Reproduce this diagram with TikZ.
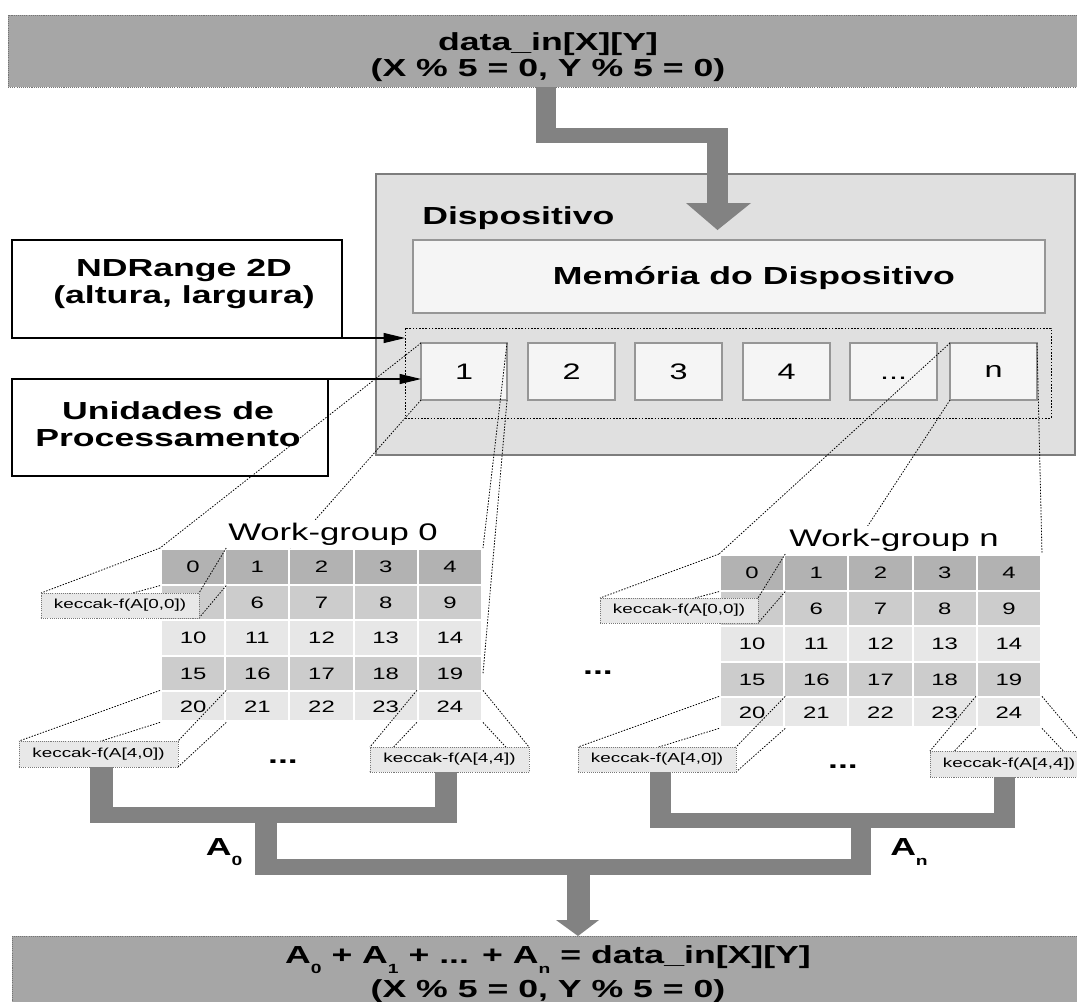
\documentclass[tikz,border=0pt]{standalone}
\usepackage{fontspec}
\setmainfont{Liberation Sans}
\usetikzlibrary{arrows.meta,fit}

\definecolor{bandgray}{RGB}{166,166,166}
\definecolor{pipegray}{RGB}{130,130,130}
\definecolor{devfill}{RGB}{224,224,224}
\definecolor{devline}{RGB}{125,125,125}
\definecolor{paper}{RGB}{245,245,245}
\definecolor{boxline}{RGB}{150,150,150}
\definecolor{rowA}{RGB}{178,178,178}
\definecolor{rowB}{RGB}{204,204,204}
\definecolor{rowC}{RGB}{231,231,231}
\definecolor{kfill}{RGB}{232,232,232}
\definecolor{kline}{RGB}{120,120,120}

% wide lettering used throughout the figure
\newcommand{\hs}[1]{\scalebox{1.445}[1]{#1}}
\newcommand{\lowsub}[1]{\raisebox{-7.5pt}{\fontsize{10pt}{10pt}\selectfont #1}}

\pgfdeclarelayer{background}
\pgfdeclarelayer{foreground}
\pgfsetlayers{background,main,foreground}

\tikzset{
  plainbox/.style={inner sep=0pt, outer sep=0pt},
  band/.style={plainbox, fill=bandgray, draw=bandgray!70!black, dash pattern=on 0.8pt off 0.8pt, line width=0.5pt},
  devbox/.style={plainbox, fill=devfill, draw=devline, line width=0.8pt},
  membox/.style={plainbox, fill=paper, draw=boxline, line width=0.8pt},
  unitbox/.style={plainbox, fill=paper, draw=boxline, line width=0.8pt},
  unitlabel/.style={inner sep=0pt, font=\fontsize{16.8pt}{18pt}\selectfont},
  pubox/.style={plainbox, draw=black, dash pattern=on 1.2pt off 1.2pt, line width=0.6pt},
  notebox/.style={plainbox, draw=black, line width=0.8pt},
  boldtxt/.style={font=\bfseries\fontsize{18.5pt}{20.5pt}\selectfont, align=center, inner sep=0pt},
  cell/.style={draw=white, line width=1.5pt, inner sep=0pt, minimum width=48.15pt, font=\fontsize{12.4pt}{14pt}\selectfont},
  kbox/.style={plainbox, fill=kfill, draw=kline, dash pattern=on 0.8pt off 0.8pt, line width=0.5pt},
  klabel/.style={inner sep=0pt, font=\fontsize{9.8pt}{11pt}\selectfont},
  wgtitle/.style={fill=white, inner xsep=1pt, inner ysep=2pt, font=\fontsize{18pt}{20pt}\selectfont, anchor=base},
  pipe/.style={fill=pipegray},
  link/.style={draw=black, dash pattern=on 1.1pt off 1.1pt, line width=0.6pt},
  pointer/.style={draw=black, line width=0.8pt, -{Triangle[length=16pt,width=7.5pt]}},
  dots/.style={font=\bfseries\fontsize{18.5pt}{20pt}\selectfont, inner sep=0pt}
}

% 5x5 work-group grid: #1 name prefix, #2 left edge, #3 top edge
\newcommand{\workgrid}[3]{%
  \foreach \r/\fc in {0/rowA,1/rowB,2/rowC,3/rowB,4/rowC}{%
    \foreach \c in {0,...,4}{%
      \pgfmathsetmacro{\cellh}{\r<4 ? 35.6 : 30}%
      \pgfmathsetmacro{\cellx}{#2+64.2*\c+32.1}%
      \pgfmathsetmacro{\celly}{#3+35.6*\r+\cellh/2}%
      \pgfmathtruncatemacro{\cellnum}{5*\r+\c}%
      \node[cell, fill=\fc, minimum height=\cellh*0.75pt] (#1-\r-\c) at (\cellx,\celly)
        {\ifnum\cellnum=5 \else\hs{\cellnum}\fi};
    }%
  }%
}

% dotted edges joining a grid cell to its keccak-f box
\newcommand{\project}[2]{%
  \draw[link] (#1.north west) -- (#2.north west);
  \draw[link] (#1.south west) -- (#2.south west);
  \draw[link] (#1.north east) -- (#2.north east);
  \draw[link] (#1.south east) -- (#2.south east);
}

\begin{document}
\begin{tikzpicture}[x=0.75pt,y=-0.75pt]
\useasboundingbox (0,0) rectangle (1077,1001);

\begin{pgfonlayer}{background}
  \node[band, fit={(8,15)(1090,87)}] (inband) {};
  \node[band, fit={(12,936)(1090,1012)}] (outband) {};

  \node[devbox, fit={(376,174)(1075,455)}] (dev) {};
  \node[membox, fit={(413,240)(1045,313)}] (mem) {};
  \node[pubox, fit={(405,328)(1051,418)}] (pu) {};

  \node[unitbox, fit={(421,343)(507,400)}] (u1) {};
  \node[unitbox, fit={(528,343)(615,400)}] (u2) {};
  \node[unitbox, fit={(635,343)(722,400)}] (u3) {};
  \node[unitbox, fit={(743,343)(830,400)}] (u4) {};
  \node[unitbox, fit={(850,343)(937,400)}] (u5) {};
  \node[unitbox, fit={(950,343)(1037,400)}] (un) {};
  \node[unitlabel] (u1l) at (u1.center) {\hs{1}};
  \node[unitlabel] (u2l) at (u2.center) {\hs{2}};
  \node[unitlabel] (u3l) at (u3.center) {\hs{3}};
  \node[unitlabel] (u4l) at (u4.center) {\hs{4}};
  \node[unitlabel, anchor=base] (u5l) at ([yshift=-6pt]u5.center) {\hs{...}};
  \node[unitlabel] (unl) at (un.center) {\hs{n}};

  \node[notebox, fit={(12,240)(342,338)}] (ndr) {};
  \node[notebox, fit={(12,379)(328,476)}] (unid) {};

  \draw[pointer] (ndr.south east) -- (pu.west |- ndr.south east);
  \draw[pointer] (unid.north east) -- (u1.west |- unid.north east);

  \workgrid{wa}{161}{549}
  \workgrid{wb}{720}{555}
\end{pgfonlayer}

% texts
\node[boldtxt, anchor=base] (inl1) at (548,50) {\hs{data\_in[X][Y]}};
\node[boldtxt, anchor=base] (inl2) at (548,76) {\hs{(X \% 5 = 0, Y \% 5 = 0)}};
\node[boldtxt, anchor=base] (outl1) at (548,963)
  {\hs{A\lowsub{0} + A\lowsub{1} + ... + A\lowsub{n} = data\_in[X][Y]}};
\node[boldtxt, anchor=base] (outl2) at (548,997) {\hs{(X \% 5 = 0, Y \% 5 = 0)}};

\node[boldtxt, anchor=base west] (devlabel) at (422,224) {\hs{Dispositivo}};
\node[boldtxt, anchor=base] (memlabel) at (754,284) {\hs{Memória do Dispositivo}};
\node[boldtxt] (ndrtext) at (184,284) {\hs{NDRange 2D}\\\hs{(altura, largura)}};
\node[boldtxt] (unidtext) at (168,424) {\hs{Unidades de}\\\hs{Processamento}};

\begin{pgfonlayer}{foreground}
  % keccak-f boxes
  \node[kbox, fit={(41,593)(199,618)}] (k00a) {};
  \node[kbox, fit={(19,741)(178,767)}] (k40a) {};
  \node[kbox, fit={(370,747)(529,772)}] (k44a) {};
  \node[kbox, fit={(600,598)(758,623)}] (k00b) {};
  \node[kbox, fit={(578,747)(736,772)}] (k40b) {};
  \node[kbox, fit={(930,751)(1088,777)}] (k44b) {};
  \node[klabel] (k00al) at (k00a.center) {\hs{keccak-f(A[0,0])}};
  \node[klabel] (k40al) at (k40a.center) {\hs{keccak-f(A[4,0])}};
  \node[klabel] (k44al) at (k44a.center) {\hs{keccak-f(A[4,4])}};
  \node[klabel] (k00bl) at (k00b.center) {\hs{keccak-f(A[0,0])}};
  \node[klabel] (k40bl) at (k40b.center) {\hs{keccak-f(A[4,0])}};
  \node[klabel] (k44bl) at (k44b.center) {\hs{keccak-f(A[4,4])}};

  % work-group titles
  \node[wgtitle] (t0) at (333,540) {\hs{Work-group 0}};
  \node[wgtitle] (tn) at (894,546) {\hs{Work-group n}};

  \node[dots] (dotsa) at (283,762) {\hs{...}};
  \node[dots] (dotsb) at (843,767) {\hs{...}};
  \node[dots] (dotsmid) at (598,673) {\hs{...}};

  % input arrow into the device
  \fill[pipe] (inband.south -| 536,0) rectangle (556,143);
  \fill[pipe] (536,128) rectangle (728,143);
  \fill[pipe] (707,128) rectangle (728,203);
  \fill[pipe] (686,203) -- (751,203) -- (717.5,230) -- cycle;

  % reduction of work-group 0
  \fill[pipe] (k40a.south -| 90,0) rectangle (113,823);
  \fill[pipe] (k44a.south -| 435,0) rectangle (457,823);
  \fill[pipe] (90,807) rectangle (457,823);
  \fill[pipe] (255,807) rectangle (277,875);

  % reduction of work-group n
  \fill[pipe] (k40b.south -| 650,0) rectangle (671,828);
  \fill[pipe] (k44b.south -| 994,0) rectangle (1015,828);
  \fill[pipe] (650,813) rectangle (1015,828);
  \fill[pipe] (851,813) rectangle (871,875);

  % final sum
  \fill[pipe] (255,859) rectangle (871,875);
  \fill[pipe] (567,875) rectangle (590,920);
  \fill[pipe] (556,920) -- (599,920) -- (outband.north -| 578,0) -- cycle;

  \node[boldtxt, anchor=base] (a0) at (224,855) {\hs{A\lowsub{0}}};
  \node[boldtxt, anchor=base] (an) at (909,855) {\hs{A\lowsub{n}}};
\end{pgfonlayer}

% cells mapped to keccak-f
\project{wa-0-0}{k00a}
\project{wa-4-0}{k40a}
\project{wa-4-4}{k44a}
\project{wb-0-0}{k00b}
\project{wb-4-0}{k40b}
\project{wb-4-4}{k44b}

% processing units mapped to work-groups
\draw[link] (u1.north west) -- (wa-0-0.north west);
\draw[link] (u1.south west) -- (wa-0-1.north east);
\draw[link] (u1.north east) -- (wa-0-4.north east);
\draw[link] (u1.south east) -- (wa-3-4.east);
\draw[link] (un.north west) -- (wb-0-0.north west);
\draw[link] (un.south west) -- (wb-0-1.north east);
\draw[link] (un.north east) -- (wb-0-4.north east);

\end{tikzpicture}
\end{document}
